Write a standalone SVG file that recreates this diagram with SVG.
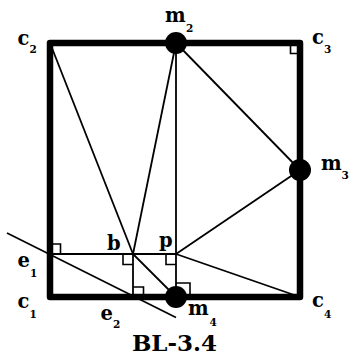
<svg xmlns="http://www.w3.org/2000/svg" width="354" height="355" viewBox="0 0 354 355">
<style>
.frame{fill:none;stroke:#000;stroke-width:6.5;stroke-linejoin:round}
.ln{stroke:#000;stroke-width:1.8;fill:none}
.ra{stroke:#000;stroke-width:1.6;fill:none}
.dot{fill:#000}
text{font-family:"DejaVu Serif","Liberation Serif",serif;font-weight:bold;fill:#000}
.lb{font-size:19.5px}
.sb{font-size:10.5px}
.title{font-size:23px}
</style>
<rect fill="#fff" x="0" y="0" width="354" height="355"/>
<g id="square"><rect class="frame" x="50" y="43" width="250" height="254"/></g>
<g id="connectors">
<line class="ln" x1="50" y1="43" x2="133" y2="254"/>
<line class="ln" x1="176" y1="43" x2="133" y2="254"/>
<line class="ln" x1="176" y1="43" x2="176" y2="297"/>
<line class="ln" x1="176" y1="43" x2="300" y2="170"/>
<line class="ln" x1="176" y1="254" x2="300" y2="170"/>
<line class="ln" x1="176" y1="254" x2="300" y2="297"/>
<line class="ln" x1="50" y1="254" x2="176" y2="254"/>
<line class="ln" x1="133" y1="254" x2="133" y2="297"/>
<line class="ln" x1="133" y1="254" x2="176" y2="297"/>
<line class="ln" x1="7" y1="233" x2="176" y2="317.5"/>
</g>
<g id="right-angles">
<polyline class="ra" points="50,244 60.5,244 60.5,254"/>
<polyline class="ra" points="133,264.5 123,264.5 123,254"/>
<polyline class="ra" points="133,287 143.5,287 143.5,297"/>
<polyline class="ra" points="176,264.5 166,264.5 166,254"/>
<polyline class="ra" points="176,283 190,283 190,297"/>
<polyline class="ra" points="290.5,43 290.5,53.5 300,53.5"/>
</g>
<g id="c2"><text class="lb" x="17.5" y="45">c</text><text class="sb" x="29.5" y="53">2</text></g>
<g id="c3"><text class="lb" x="312" y="44">c</text><text class="sb" x="324" y="53">3</text></g>
<g id="c1"><text class="lb" x="17.5" y="308">c</text><text class="sb" x="29.5" y="318">1</text></g>
<g id="c4"><text class="lb" x="312" y="306.5">c</text><text class="sb" x="324" y="318">4</text></g>
<g id="m2"><circle class="dot" cx="176" cy="43" r="11"/><text class="lb" x="165" y="21.5">m</text><text class="sb" x="186" y="31.5">2</text></g>
<g id="m3"><circle class="dot" cx="300" cy="170" r="11"/><text class="lb" x="321" y="170">m</text><text class="sb" x="341.5" y="179">3</text></g>
<g id="m4"><circle class="dot" cx="176" cy="297" r="11"/><text class="lb" x="188" y="315">m</text><text class="sb" x="209.5" y="326">4</text></g>
<g id="e1"><text class="lb" x="17.5" y="267">e</text><text class="sb" x="30" y="277">1</text></g>
<g id="e2"><text class="lb" x="100.5" y="320">e</text><text class="sb" x="113" y="328">2</text></g>
<g id="b"><text class="lb" x="107" y="250">b</text></g>
<g id="p"><text class="lb" x="159" y="247">p</text></g>
<g id="caption"><text class="title" x="174.5" y="351" text-anchor="middle">BL-3.4</text></g>
</svg>
